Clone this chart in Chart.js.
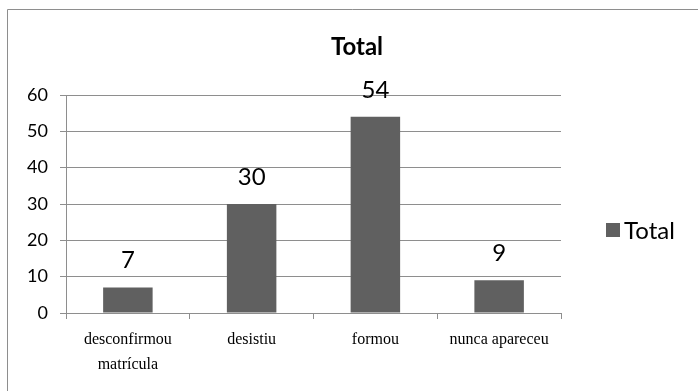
<!DOCTYPE html>
<html>
<head>
<meta charset="utf-8">
<script src="https://cdn.jsdelivr.net/npm/chart.js@4/dist/chart.umd.min.js"></script>
<style>
  html, body { margin: 0; padding: 0; background: #fff; }
  canvas { display: block; }
</style>
</head>
<body>
<canvas id="c" width="698" height="391"></canvas>
<script>
// Situação dos alunos (Total)
const categories = [['desconfirmou', 'matrícula'], 'desistiu', 'formou', 'nunca apareceu'];
const totals = [7, 30, 54, 9];
const yTicks = [0, 10, 20, 30, 40, 50, 60];
const seriesName = 'Total';
const chartTitle = 'Total';

const GRID = '#8e8e8e';
const BAR = '#606060';
const SANS = 'Lato, "Open Sans", sans-serif';
const SERIF = '"Liberation Serif", "DejaVu Serif", serif';

// Frame, title, legend and value labels
const decor = {
  id: 'decor',
  beforeDraw(chart) {
    const ctx = chart.ctx;
    ctx.save();
    ctx.fillStyle = '#fff';
    ctx.fillRect(0, 0, chart.width, chart.height);
    ctx.strokeStyle = GRID;
    ctx.lineWidth = 1;
    ctx.beginPath();
    ctx.moveTo(7.5, chart.height);
    ctx.lineTo(7.5, 9.5);
    ctx.lineTo(chart.width, 9.5);
    ctx.stroke();
    ctx.restore();
  },
  afterDatasetsDraw(chart) {
    const ctx = chart.ctx;
    ctx.save();
    // value labels above bars
    ctx.fillStyle = '#000';
    ctx.font = '24px ' + SANS;
    ctx.textAlign = 'center';
    ctx.textBaseline = 'middle';
    const meta = chart.getDatasetMeta(0);
    meta.data.forEach((bar, i) => {
      ctx.fillText(String(chart.data.datasets[0].data[i]), bar.x, bar.y - 27);
    });
    // title
    ctx.font = 'bold 24px ' + SANS;
    ctx.fillText(chartTitle, 357, 47);
    // legend
    ctx.fillStyle = BAR;
    ctx.fillRect(606, 223, 14, 14);
    ctx.fillStyle = '#000';
    ctx.font = '24px ' + SANS;
    ctx.textAlign = 'left';
    ctx.fillText(seriesName, 624, 231);
    ctx.restore();
  }
};

new Chart(document.getElementById('c'), {
  type: 'bar',
  data: {
    labels: categories,
    datasets: [{
      label: seriesName,
      data: totals,
      backgroundColor: BAR,
      barPercentage: 0.4,
      categoryPercentage: 1.0
    }]
  },
  options: {
    responsive: false,
    animation: false,
    devicePixelRatio: 1,
    layout: { padding: { top: 95, right: 137, bottom: 0, left: 0 } },
    plugins: {
      legend: { display: false },
      title: { display: false },
      tooltip: { enabled: false }
    },
    scales: {
      x: {
        offset: true,
        afterFit(scale) { scale.height = 78; },
        grid: {
          offset: true,
          drawOnChartArea: false,
          tickLength: 6,
          color: GRID
        },
        border: { display: true, color: GRID },
        ticks: {
          color: '#000',
          font: { family: SERIF, size: 16, lineHeight: 1.56 },
          padding: 8,
          maxRotation: 0,
          autoSkip: false
        }
      },
      y: {
        min: 0,
        max: 60,
        afterFit(scale) { scale.width = 66; },
        afterBuildTicks(scale) { scale.ticks = yTicks.map(v => ({ value: v })); },
        grid: { color: GRID, tickLength: 6 },
        border: { display: true, color: GRID },
        ticks: {
          color: '#000',
          font: { family: SANS, size: 18 },
          padding: 12
        }
      }
    }
  },
  plugins: [decor]
});
</script>
</body>
</html>
